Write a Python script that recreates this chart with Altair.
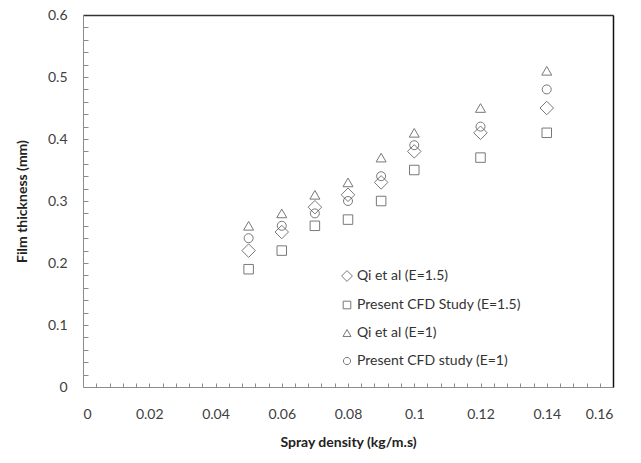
import altair as alt
import pandas as pd

spray = [0.05, 0.06, 0.07, 0.08, 0.09, 0.1, 0.12, 0.14]
qi_e15 = [0.22, 0.25, 0.29, 0.31, 0.33, 0.38, 0.41, 0.45]
cfd_e15 = [0.19, 0.22, 0.26, 0.27, 0.30, 0.35, 0.37, 0.41]
qi_e1 = [0.26, 0.28, 0.31, 0.33, 0.37, 0.41, 0.45, 0.51]
cfd_e1 = [0.24, 0.26, 0.28, 0.30, 0.34, 0.39, 0.42, 0.48]

series = ["Qi et al (E=1.5)", "Present CFD Study (E=1.5)", "Qi et al (E=1)", "Present CFD study (E=1)"]
shapes = [
    "M-1.35,0L0,-1.35L1.35,0L0,1.35Z",
    "M-0.95,-0.95H0.95V0.95H-0.95Z",
    "triangle-up",
    "M0.9,0A0.9,0.9,0,1,1,-0.9,0A0.9,0.9,0,1,1,0.9,0Z",
]

x_major = [0, 0.02, 0.04, 0.06, 0.08, 0.1, 0.12, 0.14, 0.16]
y_major = [0, 0.1, 0.2, 0.3, 0.4, 0.5, 0.6]
x_minor = [round(i * 0.004, 3) for i in range(1, 40)]
y_minor = [round(i * 0.02, 2) for i in range(1, 30)]

rows = []
for name, vals in zip(series, [qi_e15, cfd_e15, qi_e1, cfd_e1]):
    for xv, yv in zip(spray, vals):
        rows.append({"spray": xv, "film": yv, "series": name})
df = pd.DataFrame(rows)

W, H = 530, 372
FONT = "Lato"
xs = alt.Scale(domain=[0, 0.16], nice=False)
ys = alt.Scale(domain=[0, 0.6], nice=False)

points = alt.Chart(df).mark_point(filled=False, strokeWidth=1, color="#404040", size=100).encode(
    x=alt.X("spray:Q", scale=xs, axis=alt.Axis(
        title="Spray density (kg/m.s)", values=x_major, format=".2~f", ticks=False,
        domainColor="#8c8c8c", domainWidth=1, grid=False, labelPadding=20,
        labelFontSize=14, labelFont=FONT, labelColor="#404040",
        titleFont=FONT, titleFontSize=14, titleFontWeight="bold", titleColor="#222222",
        titlePadding=14)),
    y=alt.Y("film:Q", scale=ys, axis=alt.Axis(
        title="Film thickness (mm)", values=y_major, format=".1~f", ticks=False,
        domainColor="#8c8c8c", domainWidth=1, grid=False, labelPadding=16,
        labelFontSize=14, labelFont=FONT, labelColor="#404040",
        titleFont=FONT, titleFontSize=14, titleFontWeight="bold", titleColor="#222222",
        titlePadding=18)),
    shape=alt.Shape("series:N", scale=alt.Scale(domain=series, range=shapes), legend=alt.Legend(
        title=None, orient="none", legendX=257, legendY=254, padding=0,
        symbolSize=64, symbolStrokeColor="#404040", symbolFillColor="transparent",
        symbolStrokeWidth=1, labelFont=FONT, labelFontSize=14, labelColor="#333333",
        labelOffset=3, rowPadding=14, labelLimit=400)),
)

ticks = alt.Chart(df).mark_point(opacity=0).encode(
    x=alt.X("spray:Q", scale=xs, axis=alt.Axis(
        orient="top", offset=-H, values=x_minor, labels=False, domain=False,
        tickSize=4, tickColor="#8c8c8c", title=None, grid=False)),
    y=alt.Y("film:Q", scale=ys, axis=alt.Axis(
        orient="right", offset=-W, values=y_minor, labels=False, domain=False,
        tickSize=5, tickColor="#8c8c8c", title=None, grid=False)),
)

border = alt.Chart(df).mark_point(opacity=0).encode(
    x=alt.X("spray:Q", scale=xs, axis=alt.Axis(
        orient="top", labels=False, ticks=False, domainColor="#333333",
        domainWidth=1.5, title=None, grid=False)),
    y=alt.Y("film:Q", scale=ys, axis=alt.Axis(
        orient="right", labels=False, ticks=False, domainColor="#111111",
        domainWidth=1.5, title=None, grid=False)),
)

chart = alt.layer(points, ticks, border).resolve_axis(
    x="independent", y="independent"
).properties(
    width=W, height=H,
    autosize=alt.AutoSizeParams(type="none"),
    padding={"left": 75, "top": 7, "right": 20, "bottom": 68},
).configure_view(stroke=None).configure(background="white")

chart.save("out.html", embed_options={"renderer": "svg", "actions": False})
